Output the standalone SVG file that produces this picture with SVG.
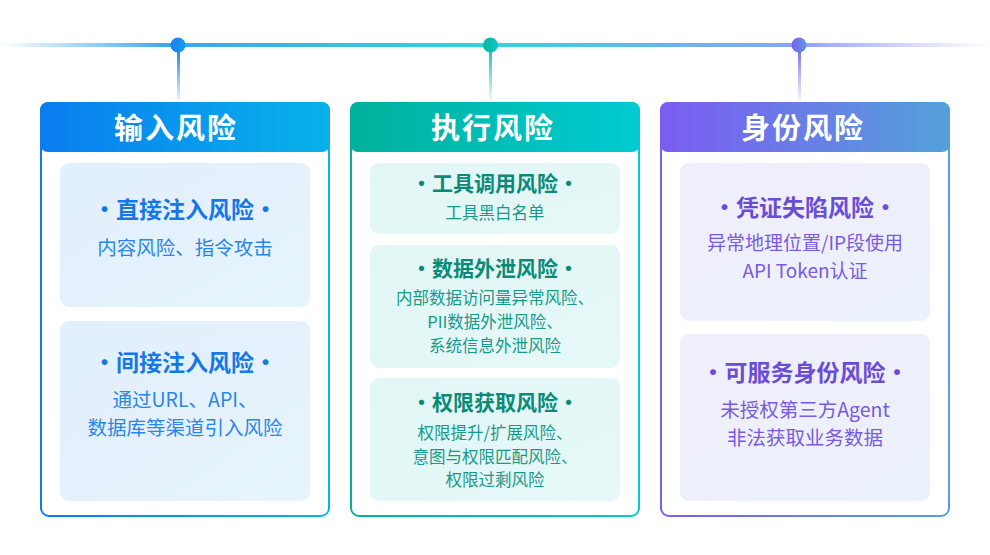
<svg xmlns="http://www.w3.org/2000/svg" width="990" height="555" viewBox="0 0 990 555">
<defs>
<linearGradient id="tl" x1="0" y1="0" x2="990" y2="0" gradientUnits="userSpaceOnUse">
<stop offset="0" stop-color="#4aa6f0" stop-opacity="0"/>
<stop offset="0.17" stop-color="#3aa6ee"/>
<stop offset="0.5" stop-color="#33d6d6"/>
<stop offset="0.68" stop-color="#66b6ee"/>
<stop offset="0.81" stop-color="#8ea2f8"/>
<stop offset="1" stop-color="#a8a8f8" stop-opacity="0"/>
</linearGradient>
<linearGradient id="vb" x1="0" y1="0" x2="0" y2="1"><stop offset="0" stop-color="#1a86ee"/><stop offset="1" stop-color="#1a86ee" stop-opacity="0.1"/></linearGradient>
<linearGradient id="vt" x1="0" y1="0" x2="0" y2="1"><stop offset="0" stop-color="#18c4b8"/><stop offset="1" stop-color="#18c4b8" stop-opacity="0.1"/></linearGradient>
<linearGradient id="vp" x1="0" y1="0" x2="0" y2="1"><stop offset="0" stop-color="#7a6cf0"/><stop offset="1" stop-color="#7a8cf0" stop-opacity="0.1"/></linearGradient>
<linearGradient id="db" x1="0" y1="0" x2="1" y2="0"><stop offset="0" stop-color="#1580ee"/><stop offset="1" stop-color="#1a9af0"/></linearGradient>
<linearGradient id="dt" x1="0" y1="0" x2="1" y2="0"><stop offset="0" stop-color="#05b5a5"/><stop offset="1" stop-color="#10c6c0"/></linearGradient>
<linearGradient id="dp" x1="0" y1="0" x2="1" y2="0"><stop offset="0" stop-color="#7a62ee"/><stop offset="1" stop-color="#5e96e0"/></linearGradient>
<linearGradient id="hb" x1="0" y1="0" x2="1" y2="0"><stop offset="0" stop-color="#0a7cf0"/><stop offset="1" stop-color="#08b2ea"/></linearGradient>
<linearGradient id="ht" x1="0" y1="0" x2="1" y2="0"><stop offset="0" stop-color="#00b19c"/><stop offset="1" stop-color="#00cad2"/></linearGradient>
<linearGradient id="hp" x1="0" y1="0" x2="1" y2="0"><stop offset="0" stop-color="#7b5cf2"/><stop offset="1" stop-color="#54a0da"/></linearGradient>
<linearGradient id="fb" x1="0" y1="0" x2="1" y2="1"><stop offset="0" stop-color="#e2effd"/><stop offset="1" stop-color="#e6f4fb"/></linearGradient>
<linearGradient id="ft" x1="0" y1="0" x2="1" y2="1"><stop offset="0" stop-color="#e1f6f5"/><stop offset="1" stop-color="#e6f8f8"/></linearGradient>
<linearGradient id="fp" x1="0" y1="0" x2="1" y2="1"><stop offset="0" stop-color="#f0eefc"/><stop offset="1" stop-color="#ebf2fb"/></linearGradient>
</defs>
<style>
text{font-family:"Noto Sans CJK SC","Noto Sans",sans-serif;text-anchor:middle}
.hd{font-size:29px;font-weight:700;fill:#fff;letter-spacing:2px}
.t1{font-size:23px;font-weight:700}
.s1{font-size:19.5px}
.s3{font-size:19px}
.t2{font-size:21px;font-weight:700}
.s2{font-size:16.5px}
.bt{fill:#1677e6}.bs{fill:#2a86e8}
.tt{fill:#0b8a78}.ts{fill:#17998a}
.pt{fill:#6a4cd6}.ps{fill:#7a5ae0}
.card{fill:#fff;stroke-width:2}
</style>
<g id="timeline">
<rect x="0" y="43" width="990" height="4" fill="url(#tl)"/>
</g>
<g id="connectors">
<rect x="177" y="50" width="3" height="50" fill="url(#vb)"/>
<rect x="489" y="50" width="3" height="50" fill="url(#vt)"/>
<rect x="798" y="50" width="3" height="50" fill="url(#vp)"/>
<circle cx="178" cy="45" r="7.5" fill="url(#db)"/>
<circle cx="490.5" cy="45" r="7.5" fill="url(#dt)"/>
<circle cx="799" cy="45" r="7.5" fill="url(#dp)"/>
</g>
<g id="card-input">
<rect class="card" x="41" y="103" width="288" height="413" rx="8" stroke="url(#hb)"/>
<rect x="40" y="102" width="290" height="50" rx="8" fill="url(#hb)"/>
<text class="hd" x="176" y="139">输入风险</text>
<g id="direct-injection">
<rect x="60" y="163" width="250" height="144" rx="9" fill="url(#fb)"/>
<text class="t1 bt" x="185" y="218">·直接注入风险·</text>
<text class="s1 bs" x="185" y="255">内容风险、指令攻击</text>
</g>
<g id="indirect-injection">
<rect x="60" y="321" width="250" height="180" rx="9" fill="url(#fb)"/>
<text class="t1 bt" x="185" y="371">·间接注入风险·</text>
<text class="s1 bs" x="185" y="407">通过URL、API、</text>
<text class="s1 bs" x="185" y="435">数据库等渠道引入风险</text>
</g>
</g>
<g id="card-exec">
<rect class="card" x="351" y="103" width="288" height="413" rx="8" stroke="url(#ht)"/>
<rect x="350" y="102" width="290" height="50" rx="8" fill="url(#ht)"/>
<text class="hd" x="493" y="139">执行风险</text>
<g id="tool-call">
<rect x="370" y="163" width="250" height="71" rx="9" fill="url(#ft)"/>
<text class="t2 tt" x="495" y="191">·工具调用风险·</text>
<text class="s2 ts" x="495" y="219">工具黑白名单</text>
</g>
<g id="data-leak">
<rect x="370" y="245" width="250" height="123" rx="9" fill="url(#ft)"/>
<text class="t2 tt" x="495" y="276">·数据外泄风险·</text>
<text class="s2 ts" x="495" y="304">内部数据访问量异常风险、</text>
<text class="s2 ts" x="495" y="328">PII数据外泄风险、</text>
<text class="s2 ts" x="495" y="352">系统信息外泄风险</text>
</g>
<g id="privilege">
<rect x="370" y="378" width="250" height="123" rx="9" fill="url(#ft)"/>
<text class="t2 tt" x="495" y="410">·权限获取风险·</text>
<text class="s2 ts" x="495" y="439">权限提升/扩展风险、</text>
<text class="s2 ts" x="495" y="463">意图与权限匹配风险、</text>
<text class="s2 ts" x="495" y="486">权限过剩风险</text>
</g>
</g>
<g id="card-identity">
<rect class="card" x="661" y="103" width="288" height="413" rx="8" stroke="url(#hp)"/>
<rect x="660" y="102" width="290" height="50" rx="8" fill="url(#hp)"/>
<text class="hd" x="803" y="139">身份风险</text>
<g id="credential">
<rect x="680" y="163" width="250" height="158" rx="9" fill="url(#fp)"/>
<text class="t1 pt" x="805" y="216">·凭证失陷风险·</text>
<text class="s3 ps" x="805" y="250">异常地理位置/IP段使用</text>
<text class="s3 ps" x="805" y="278">API Token认证</text>
</g>
<g id="service-identity">
<rect x="680" y="334" width="250" height="167" rx="9" fill="url(#fp)"/>
<text class="t1 pt" x="805" y="381">·可服务身份风险·</text>
<text class="s1 ps" x="805" y="417">未授权第三方Agent</text>
<text class="s1 ps" x="805" y="445">非法获取业务数据</text>
</g>
</g>
</svg>
